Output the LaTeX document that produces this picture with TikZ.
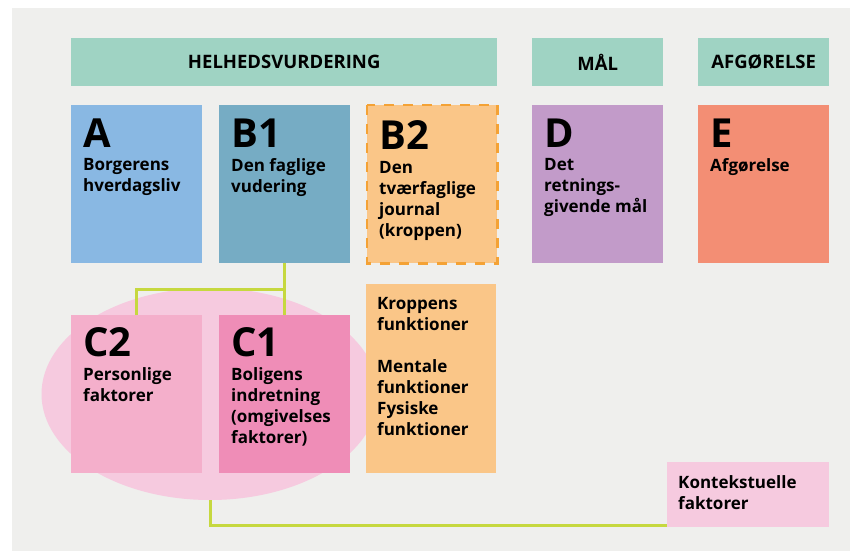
\documentclass[tikz,border=0pt]{standalone}
\usepackage{fontspec}
\setmainfont{Open Sans}
\usetikzlibrary{shapes.geometric,calc}

\definecolor{bggrey}{HTML}{EFEFED}
\definecolor{headteal}{HTML}{9FD3C3}
\definecolor{tileA}{HTML}{89B8E3}
\definecolor{tileBone}{HTML}{76ACC4}
\definecolor{tileorange}{HTML}{FAC688}
\definecolor{dashorange}{HTML}{F4A235}
\definecolor{tileD}{HTML}{C29BC9}
\definecolor{tileE}{HTML}{F38E74}
\definecolor{tileCtwo}{HTML}{F4AFCB}
\definecolor{tileCone}{HTML}{EF8DB7}
\definecolor{ctxpink}{HTML}{F6CADF}
\definecolor{linkgreen}{HTML}{C6D83F}

\begin{document}
\begin{tikzpicture}[x=1pt,y=-1pt,
    head/.style={fill=headteal, anchor=north west, inner sep=0pt,
        minimum height=48pt, font=\fontsize{18.5}{18.5}\selectfont\bfseries},
    tile/.style={anchor=north west, inner sep=0pt,
        minimum width=131pt, minimum height=158pt},
    letter/.style={anchor=base west, inner sep=0pt,
        font=\fontsize{40}{40}\selectfont\bfseries},
    body/.style={anchor=north west, inner sep=0pt, align=left,
        font=\fontsize{17}{21}\selectfont\bfseries},
    link/.style={draw=linkgreen, line width=3pt}]
    \useasboundingbox (0,0) rectangle (850,551);
    \fill [bggrey] (12,8) rectangle (850,551);

    % top headers
    \node [head, minimum width=426pt] (helhed) at (71,38) {HELHEDSVURDERING};
    \node [head, minimum width=131pt] (maal) at (532,38) {MÅL};
    \node [head, minimum width=131pt] (afg) at (698,38) {AFGØRELSE};

    % context ellipse behind C1, C2
    \node [ellipse, fill=ctxpink, inner sep=0pt,
        minimum width=337pt, minimum height=212pt] (ctx) at (210,394) {};

    % first row
    \node [tile, fill=tileA] (A) at (71,105) {};
    \node [letter] at ([shift={(12,42)}]A.north west) {A};
    \node [body] at ([shift={(12,53)}]A.north west) {Borgerens\\hverdagsliv};

    \node [tile, fill=tileBone] (B1) at (219,105) {};
    \node [letter] at ([shift={(12,42)}]B1.north west) {B1};
    \node [body] at ([shift={(12,53)}]B1.north west) {Den faglige\\vudering};

    \node [tile, fill=tileorange, minimum width=130pt] (B2) at (367,105) {};
    \draw [dashorange, line width=2.5pt, dash pattern=on 10pt off 9pt]
        (B2.north west) rectangle (B2.south east);
    \node [letter] at ([shift={(12,44)}]B2.north west) {B2};
    \node [body] at ([shift={(12,56)}]B2.north west)
        {Den\\tværfaglige\\journal\\(kroppen)};

    \node [tile, fill=tileD] (D) at (532,105) {};
    \node [letter] at ([shift={(12,42)}]D.north west) {D};
    \node [body] at ([shift={(12,53)}]D.north west)
        {Det\\retnings-\\givende mål};

    \node [tile, fill=tileE] (E) at (698,105) {};
    \node [letter] at ([shift={(12,42)}]E.north west) {E};
    \node [body] at ([shift={(12,53)}]E.north west) {Afgørelse};

    % second row
    \node [tile, fill=tileCtwo] (C2) at (71,315) {};
    \node [letter] at ([shift={(12,41)}]C2.north west) {C2};
    \node [body] at ([shift={(12,52)}]C2.north west) {Personlige\\faktorer};

    \node [tile, fill=tileCone] (C1) at (219,315) {};
    \node [letter] at ([shift={(12,41)}]C1.north west) {C1};
    \node [body] at ([shift={(12,52)}]C1.north west)
        {Boligens\\indretning\\(omgivelses\\faktorer)};

    \node [tile, fill=tileorange, minimum width=130pt, minimum height=189pt]
        (krop) at (366,284) {};
    \node [body] at ([shift={(11,13)}]krop.north west)
        {Kroppens\\funktioner\\[21pt]Mentale\\funktioner\\Fysiske\\funktioner};

    \node [tile, fill=ctxpink, minimum width=162pt, minimum height=65pt]
        (kont) at (667,462) {};
    \node [body] at ([shift={(11,13)}]kont.north west)
        {Kontekstuelle\\faktorer};

    % connectors
    \coordinate (fork) at ($(B1.south)!0.5!(C1.north)$);
    \draw [link] (B1.south) -- (C1.north);
    \draw [link] (C2.north) |- (fork);
    \draw [link] (ctx.south) |- ([yshift=1.5pt]kont.south west);
\end{tikzpicture}
\end{document}
